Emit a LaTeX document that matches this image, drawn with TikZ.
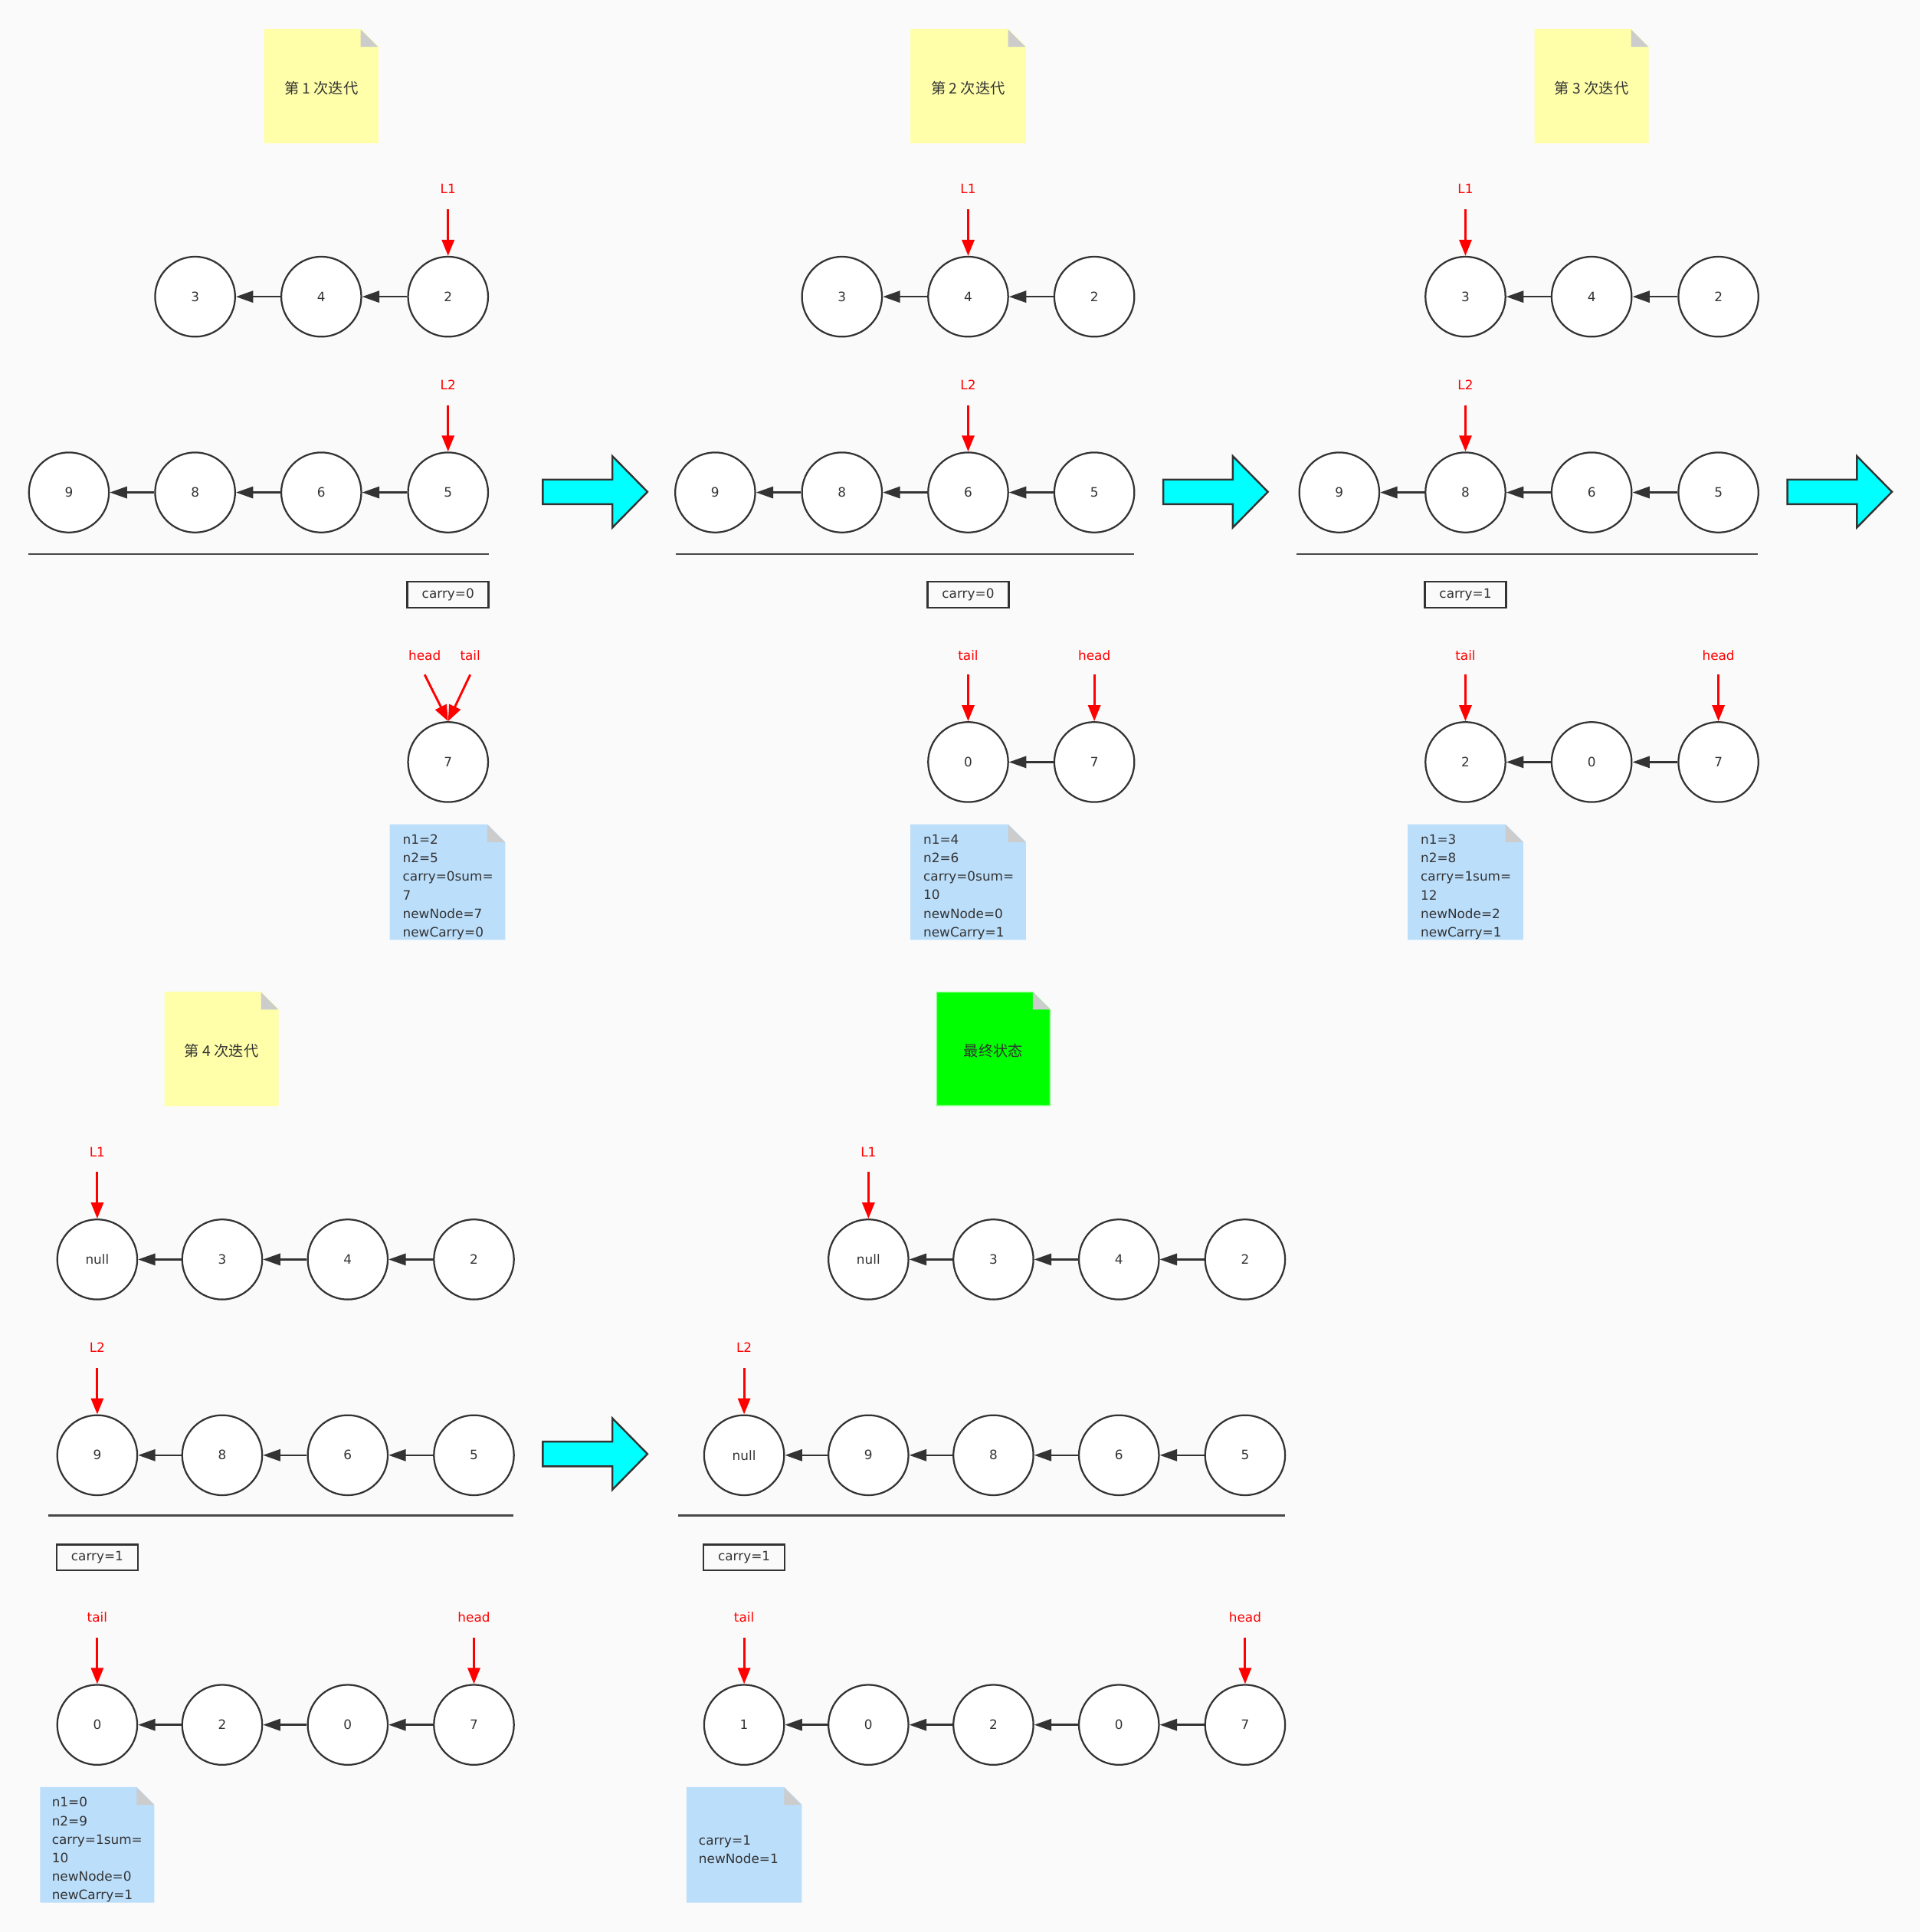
\documentclass[tikz,border=0pt]{standalone}
\usepackage{fontspec}
\setmainfont{DejaVu Sans}
\newfontfamily\cjk{Noto Sans CJK SC}
\usetikzlibrary{arrows.meta}
\definecolor{dark}{HTML}{333333}
\definecolor{bgc}{HTML}{FAFAFA}
\definecolor{yel}{HTML}{FFFFAA}
\definecolor{blu}{HTML}{BBDEFB}
\definecolor{grn}{HTML}{00FF00}
\definecolor{grnb}{HTML}{80FF80}
\definecolor{cornergray}{HTML}{CCCCCC}
\definecolor{cyn}{HTML}{00FFFF}
\newcommand\fsz{\fontsize{10.5}{15}\selectfont}
\newcommand\cjsz{\fontsize{12}{15}\selectfont}
\newcommand\stickynote[6]{%
  \fill[#5, draw=#6, line width=0.8pt] (#1,#2) -- (#3-14,#2) -- (#3,#2+14) -- (#3,#4) -- (#1,#4) -- cycle;
  \fill[cornergray] (#3-14,#2) -- (#3-14,#2+14) -- (#3,#2+14) -- cycle;}
\newcommand\cyanarrow[2]{%
  \draw[fill=cyn, draw=dark, line width=1.5pt, line join=miter]
    (#1,#2-10) -- (#1+56.5,#2-10) -- (#1+56.5,#2-29) -- (#1+85,#2) --
    (#1+56.5,#2+29) -- (#1+56.5,#2+10) -- (#1,#2+10) -- cycle;}
\begin{document}
\begin{tikzpicture}[x=1pt,y=-1pt,
  ln/.style={circle, draw=dark, line width=1.4pt, fill=white, minimum size=65pt, inner sep=0pt, font=\fsz, text=dark},
  nx/.style={-{Triangle[length=14pt,width=9.5pt]}, draw=dark, fill=dark, line width=1.5pt},
  ptr/.style={-{Triangle[length=13pt,width=10pt]}, draw=red, fill=red, line width=1.8pt},
  lbl/.style={text=red, font=\fsz, inner sep=0pt},
  cbox/.style={draw=dark, line width=1.6pt, minimum width=66pt, minimum height=21pt, inner sep=0pt, font=\fsz, text=dark},
  sep/.style={draw=dark!90, line width=1.7pt},
  ntxt/.style={font=\fsz, text=dark, align=left, inner sep=0pt, anchor=west},
  ctxt/.style={font=\cjk\cjsz, text=dark, inner sep=0pt}]
\useasboundingbox (0,0) rectangle (1560,1569.3);
\fill[bgc] (0,0) rectangle (1560,1569.3);

% ================= Panel 1 =================
\stickynote{215}{24}{307}{116}{yel}{yel}
\node[ctxt] (t1) at (261,71.5) {第 1 次迭代};
\node[ln] (p1a1) at (158.5,241) {3};
\node[ln] (p1a2) at (261,241) {4};
\node[ln] (p1a3) at (364,241) {2};
\draw[nx] (p1a2) -- (p1a1);
\draw[nx] (p1a3) -- (p1a2);
\node[lbl] (p1l1) at (364,153.5) {L1};
\coordinate (p1l1s) at (364,170);
\draw[ptr] (p1l1s) -- (p1a3.north);
\node[ln] (p1b1) at (56,400) {9};
\node[ln] (p1b2) at (158.5,400) {8};
\node[ln] (p1b3) at (261,400) {6};
\node[ln] (p1b4) at (364,400) {5};
\draw[nx] (p1b2) -- (p1b1);
\draw[nx] (p1b3) -- (p1b2);
\draw[nx] (p1b4) -- (p1b3);
\node[lbl] (p1l2) at (364,312.5) {L2};
\coordinate (p1l2s) at (364,329);
\draw[ptr] (p1l2s) -- (p1b4.north);
\draw[sep] (23,450) -- (397,450);
\node[cbox] (p1cb) at (364,483) {carry=0};
\node[ln] (p1c1) at (364,619) {7};
\node[lbl] (p1h) at (345,532.5) {head};
\node[lbl] (p1t) at (382,532.5) {tail};
\coordinate (p1hs) at (345,548);
\coordinate (p1ts) at (382,548);
\draw[ptr] (p1hs) -- (p1c1.north);
\draw[ptr] (p1ts) -- (p1c1.north);
\stickynote{317}{670}{410}{763}{blu}{blu}
\node[ntxt] (p1n) at (327,720.5) {n1=2\\n2=5\\carry=0sum=\\7\\newNode=7\\newCarry=0};
\cyanarrow{441}{399.5}

% ================= Panel 2 =================
\stickynote{740}{24}{833}{116}{yel}{yel}
\node[ctxt] (t2) at (786.5,71.5) {第 2 次迭代};
\node[ln] (p2a1) at (684,241) {3};
\node[ln] (p2a2) at (786.5,241) {4};
\node[ln] (p2a3) at (889,241) {2};
\draw[nx] (p2a2) -- (p2a1);
\draw[nx] (p2a3) -- (p2a2);
\node[lbl] (p2l1) at (786.5,153.5) {L1};
\coordinate (p2l1s) at (786.5,170);
\draw[ptr] (p2l1s) -- (p2a2.north);
\node[ln] (p2b1) at (581,400) {9};
\node[ln] (p2b2) at (684,400) {8};
\node[ln] (p2b3) at (786.5,400) {6};
\node[ln] (p2b4) at (889,400) {5};
\draw[nx] (p2b2) -- (p2b1);
\draw[nx] (p2b3) -- (p2b2);
\draw[nx] (p2b4) -- (p2b3);
\node[lbl] (p2l2) at (786.5,312.5) {L2};
\coordinate (p2l2s) at (786.5,329);
\draw[ptr] (p2l2s) -- (p2b3.north);
\draw[sep] (549,450) -- (921,450);
\node[cbox] (p2cb) at (786.5,483) {carry=0};
\node[ln] (p2c1) at (786.5,619) {0};
\node[ln] (p2c2) at (889,619) {7};
\draw[nx] (p2c2) -- (p2c1);
\node[lbl] (p2t) at (786.5,532.5) {tail};
\node[lbl] (p2h) at (889,532.5) {head};
\coordinate (p2ts) at (786.5,548);
\coordinate (p2hs) at (889,548);
\draw[ptr] (p2ts) -- (p2c1.north);
\draw[ptr] (p2hs) -- (p2c2.north);
\stickynote{740}{670}{833}{763}{blu}{blu}
\node[ntxt] (p2n) at (750,720.5) {n1=4\\n2=6\\carry=0sum=\\10\\newNode=0\\newCarry=1};
\cyanarrow{945}{399.5}

% ================= Panel 3 =================
\stickynote{1247}{24}{1339}{116}{yel}{yel}
\node[ctxt] (t3) at (1293,71.5) {第 3 次迭代};
\node[ln] (p3a1) at (1190.5,241) {3};
\node[ln] (p3a2) at (1293,241) {4};
\node[ln] (p3a3) at (1396,241) {2};
\draw[nx] (p3a2) -- (p3a1);
\draw[nx] (p3a3) -- (p3a2);
\node[lbl] (p3l1) at (1190.5,153.5) {L1};
\coordinate (p3l1s) at (1190.5,170);
\draw[ptr] (p3l1s) -- (p3a1.north);
\node[ln] (p3b1) at (1088,400) {9};
\node[ln] (p3b2) at (1190.5,400) {8};
\node[ln] (p3b3) at (1293,400) {6};
\node[ln] (p3b4) at (1396,400) {5};
\draw[nx] (p3b2) -- (p3b1);
\draw[nx] (p3b3) -- (p3b2);
\draw[nx] (p3b4) -- (p3b3);
\node[lbl] (p3l2) at (1190.5,312.5) {L2};
\coordinate (p3l2s) at (1190.5,329);
\draw[ptr] (p3l2s) -- (p3b2.north);
\draw[sep] (1053,450) -- (1428,450);
\node[cbox] (p3cb) at (1190.5,483) {carry=1};
\node[ln] (p3c1) at (1190.5,619) {2};
\node[ln] (p3c2) at (1293,619) {0};
\node[ln] (p3c3) at (1396,619) {7};
\draw[nx] (p3c2) -- (p3c1);
\draw[nx] (p3c3) -- (p3c2);
\node[lbl] (p3t) at (1190.5,532.5) {tail};
\node[lbl] (p3h) at (1396,532.5) {head};
\coordinate (p3ts) at (1190.5,548);
\coordinate (p3hs) at (1396,548);
\draw[ptr] (p3ts) -- (p3c1.north);
\draw[ptr] (p3hs) -- (p3c3.north);
\stickynote{1144}{670}{1237}{763}{blu}{blu}
\node[ntxt] (p3n) at (1154,720.5) {n1=3\\n2=8\\carry=1sum=\\12\\newNode=2\\newCarry=1};
\cyanarrow{1452}{399.5}

% ================= Panel 4 =================
\stickynote{134}{806}{226}{898}{yel}{yel}
\node[ctxt] (t4) at (180,853.5) {第 4 次迭代};
\node[ln] (p4a1) at (79,1023) {null};
\node[ln] (p4a2) at (180.5,1023) {3};
\node[ln] (p4a3) at (282.5,1023) {4};
\node[ln] (p4a4) at (385,1023) {2};
\draw[nx] (p4a2) -- (p4a1);
\draw[nx] (p4a3) -- (p4a2);
\draw[nx] (p4a4) -- (p4a3);
\node[lbl] (p4l1) at (79,935.5) {L1};
\coordinate (p4l1s) at (79,952);
\draw[ptr] (p4l1s) -- (p4a1.north);
\node[ln] (p4b1) at (79,1182) {9};
\node[ln] (p4b2) at (180.5,1182) {8};
\node[ln] (p4b3) at (282.5,1182) {6};
\node[ln] (p4b4) at (385,1182) {5};
\draw[nx] (p4b2) -- (p4b1);
\draw[nx] (p4b3) -- (p4b2);
\draw[nx] (p4b4) -- (p4b3);
\node[lbl] (p4l2) at (79,1094.5) {L2};
\coordinate (p4l2s) at (79,1111);
\draw[ptr] (p4l2s) -- (p4b1.north);
\draw[sep] (39,1231) -- (417,1231);
\node[cbox] (p4cb) at (79,1265) {carry=1};
\node[ln] (p4c1) at (79,1401) {0};
\node[ln] (p4c2) at (180.5,1401) {2};
\node[ln] (p4c3) at (282.5,1401) {0};
\node[ln] (p4c4) at (385,1401) {7};
\draw[nx] (p4c2) -- (p4c1);
\draw[nx] (p4c3) -- (p4c2);
\draw[nx] (p4c4) -- (p4c3);
\node[lbl] (p4t) at (79,1313.5) {tail};
\node[lbl] (p4h) at (385,1313.5) {head};
\coordinate (p4ts) at (79,1330);
\coordinate (p4hs) at (385,1330);
\draw[ptr] (p4ts) -- (p4c1.north);
\draw[ptr] (p4hs) -- (p4c4.north);
\stickynote{33}{1452}{125}{1545}{blu}{blu}
\node[ntxt] (p4n) at (42,1502.5) {n1=0\\n2=9\\carry=1sum=\\10\\newNode=0\\newCarry=1};
\cyanarrow{441}{1181}

% ================= Panel 5 =================
\stickynote{761}{806}{853}{898}{grn}{grnb}
\node[ctxt] (t5) at (807,853.5) {最终状态};
\node[ln] (p5a1) at (705.5,1023) {null};
\node[ln] (p5a2) at (807,1023) {3};
\node[ln] (p5a3) at (909,1023) {4};
\node[ln] (p5a4) at (1011.5,1023) {2};
\draw[nx] (p5a2) -- (p5a1);
\draw[nx] (p5a3) -- (p5a2);
\draw[nx] (p5a4) -- (p5a3);
\node[lbl] (p5l1) at (705.5,935.5) {L1};
\coordinate (p5l1s) at (705.5,952);
\draw[ptr] (p5l1s) -- (p5a1.north);
\node[ln] (p5b1) at (604.5,1182) {null};
\node[ln] (p5b2) at (705.5,1182) {9};
\node[ln] (p5b3) at (807,1182) {8};
\node[ln] (p5b4) at (909,1182) {6};
\node[ln] (p5b5) at (1011.5,1182) {5};
\draw[nx] (p5b2) -- (p5b1);
\draw[nx] (p5b3) -- (p5b2);
\draw[nx] (p5b4) -- (p5b3);
\draw[nx] (p5b5) -- (p5b4);
\node[lbl] (p5l2) at (604.5,1094.5) {L2};
\coordinate (p5l2s) at (604.5,1111);
\draw[ptr] (p5l2s) -- (p5b1.north);
\draw[sep] (551,1231) -- (1044,1231);
\node[cbox] (p5cb) at (604.5,1265) {carry=1};
\node[ln] (p5c1) at (604.5,1401) {1};
\node[ln] (p5c2) at (705.5,1401) {0};
\node[ln] (p5c3) at (807,1401) {2};
\node[ln] (p5c4) at (909,1401) {0};
\node[ln] (p5c5) at (1011.5,1401) {7};
\draw[nx] (p5c2) -- (p5c1);
\draw[nx] (p5c3) -- (p5c2);
\draw[nx] (p5c4) -- (p5c3);
\draw[nx] (p5c5) -- (p5c4);
\node[lbl] (p5t) at (604.5,1313.5) {tail};
\node[lbl] (p5h) at (1011.5,1313.5) {head};
\coordinate (p5ts) at (604.5,1330);
\coordinate (p5hs) at (1011.5,1330);
\draw[ptr] (p5ts) -- (p5c1.north);
\draw[ptr] (p5hs) -- (p5c5.north);
\stickynote{558}{1452}{651}{1545}{blu}{blu}
\node[ntxt] (p5n) at (567.5,1502.5) {carry=1\\newNode=1};
\end{tikzpicture}
\end{document}
